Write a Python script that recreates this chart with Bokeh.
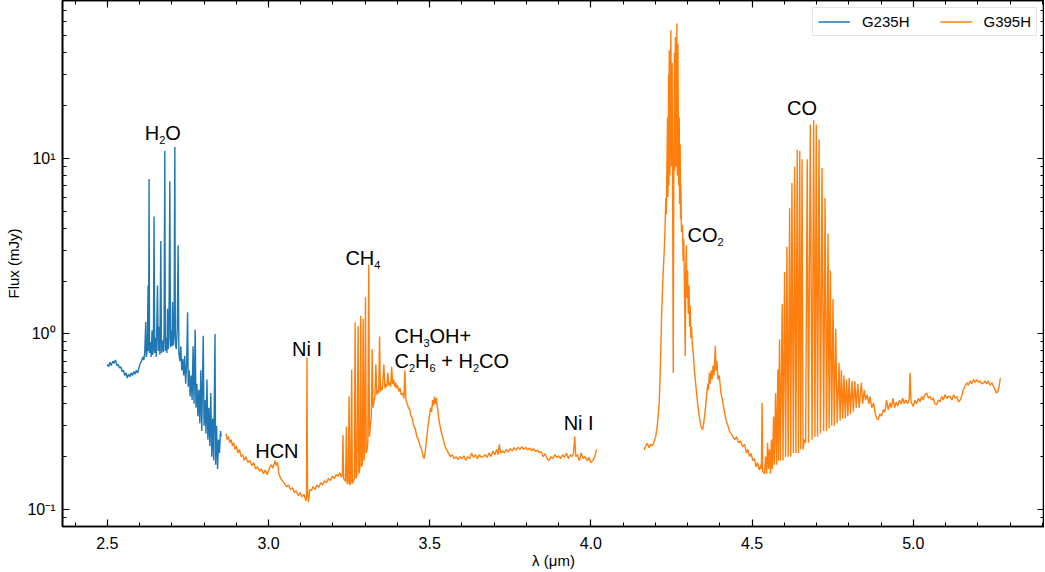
import numpy as np
from bokeh.plotting import figure
from bokeh.models import (Range1d, FixedTicker, SingleIntervalTicker, LinearAxis, LogAxis,
                          CustomJSTickFormatter, NumeralTickFormatter)
from bokeh.core.properties import value
from bokeh.embed import file_html
from bokeh.resources import INLINE

FONT = "Liberation Sans"
BLUE = "#1f77b4"
ORANGE = "#ff7f0e"
nan = float("nan")

# ---------------- data (wavelength in um, flux in mJy) ----------------
series_names = ["G235H", "G395H"]

g235h_wave = [
    2.500, 2.504, 2.508, 2.512, 2.517, 2.521, 2.525, 2.530, 2.534, 2.538,
    2.542, 2.546, 2.550, 2.554, 2.558, 2.562, 2.566, 2.570, 2.574, 2.578,
    2.582, 2.586, 2.590, 2.594, 2.598, 2.602, 2.606, 2.610, 2.613, 2.616,
    2.6192, 2.621, 2.624, 2.6264, 2.628, 2.6295, 2.631, 2.634, 2.636, 2.639,
    2.641, 2.643, 2.6450, 2.647, 2.650, 2.652, 2.6556, 2.658, 2.661, 2.663,
    2.6659, 2.668, 2.671, 2.674, 2.676, 2.6783, 2.680, 2.683, 2.685, 2.6867,
    2.689, 2.691, 2.6939, 2.696, 2.699, 2.701, 2.7023, 2.704, 2.707, 2.7095,
    2.711, 2.714, 2.717, 2.7197, 2.722, 2.725, 2.728, 2.731, 2.734, 2.737,
    2.740, 2.743, 2.746, 2.7490, 2.751, 2.754, 2.757, 2.760, 2.763, 2.766,
    2.769, 2.7726, 2.775, 2.778, 2.781, 2.784, 2.787, 2.790, 2.793, 2.7975,
    2.800, 2.803, 2.806, 2.809, 2.812, 2.815, 2.818, 2.821, 2.824, 2.827,
    2.830, 2.834, 2.836, 2.839, 2.842, 2.845, 2.848, 2.851, 2.853,
]
g235h_flux = [
    0.67, 0.65, 0.69, 0.66, 0.70, 0.68, 0.71, 0.66, 0.67, 0.64,
    0.65, 0.61, 0.62, 0.58, 0.60, 0.56, 0.59, 0.57, 0.60, 0.58,
    0.61, 0.59, 0.62, 0.60, 0.64, 0.68, 0.70, 0.74, 0.71, 0.78,
    1.17, 0.74, 0.82, 1.89, 0.80, 7.64, 0.78, 0.90, 0.74, 1.05,
    0.76, 0.85, 4.67, 0.78, 0.95, 0.74, 1.89, 0.80, 1.10, 0.76,
    3.38, 0.78, 0.92, 0.79, 1.00, 11.0, 0.80, 0.95, 0.78, 1.39,
    0.82, 0.96, 7.41, 0.84, 1.05, 0.85, 1.52, 0.86, 1.00, 11.6,
    0.88, 0.82, 1.10, 3.2, 0.78, 0.70, 0.85, 0.62, 0.72, 0.58,
    0.75, 0.52, 0.66, 1.33, 0.50, 0.62, 0.44, 0.58, 0.42, 0.85,
    0.40, 1.06, 0.38, 0.52, 0.34, 0.48, 0.31, 0.62, 0.28, 0.975,
    0.30, 0.42, 0.27, 0.55, 0.25, 0.38, 0.23, 0.46, 0.20, 0.33,
    0.19, 1.0, 0.18, 0.30, 0.17, 0.25, 0.21, 0.28, 0.26,
]

g395h_wave = [
    2.868, 2.872, 2.876, 2.880, 2.884, 2.888, 2.892, 2.896, 2.900, 2.905,
    2.910, 2.915, 2.920, 2.925, 2.930, 2.936, 2.942, 2.948, 2.954, 2.960,
    2.966, 2.972, 2.978, 2.984, 2.990, 2.996, 3.002, 3.008, 3.014, 3.020,
    3.024, 3.028, 3.032, 3.038, 3.044, 3.050, 3.056, 3.062, 3.068, 3.074,
    3.080, 3.086, 3.092, 3.098, 3.104, 3.110, 3.116, 3.118, 3.1193, 3.121,
    3.124, 3.128, 3.133, 3.138, 3.144, 3.150, 3.156, 3.162, 3.168, 3.174,
    3.180, 3.186, 3.192, 3.198, 3.204, 3.210, 3.216, 3.221, 3.226, 3.229,
    3.231, 3.233, 3.236, 3.239, 3.2417, 3.244, 3.247, 3.250, 3.252, 3.255,
    3.258, 3.260, 3.263, 3.266, 3.2687, 3.271, 3.274, 3.278, 3.280, 3.283,
    3.2862, 3.288, 3.291, 3.2936, 3.296, 3.298, 3.3008, 3.303, 3.306, 3.308,
    3.311, 3.313, 3.316, 3.319, 3.3217, 3.324, 3.327, 3.330, 3.3329, 3.336,
    3.339, 3.342, 3.3444, 3.347, 3.350, 3.353, 3.3578, 3.361, 3.364, 3.367,
    3.370, 3.373, 3.376, 3.379, 3.382, 3.385, 3.388, 3.391, 3.394, 3.397,
    3.400, 3.404, 3.408, 3.412, 3.416, 3.420, 3.423, 3.426, 3.430, 3.434,
    3.438, 3.442, 3.446, 3.450, 3.455, 3.460, 3.465, 3.470, 3.475, 3.480,
    3.483, 3.487, 3.491, 3.495, 3.499, 3.503, 3.506, 3.509, 3.512, 3.515,
    3.518, 3.521, 3.524, 3.528, 3.532, 3.537, 3.542, 3.547, 3.552, 3.558,
    3.564, 3.570, 3.576, 3.582, 3.588, 3.594, 3.600, 3.606, 3.612, 3.618,
    3.624, 3.630, 3.636, 3.642, 3.648, 3.654, 3.660, 3.666, 3.672, 3.678,
    3.684, 3.690, 3.696, 3.702, 3.708, 3.712, 3.716, 3.720, 3.726, 3.732,
    3.738, 3.744, 3.750, 3.756, 3.762, 3.768, 3.774, 3.780, 3.786, 3.792,
    3.798, 3.804, 3.810, 3.816, 3.822, 3.828, 3.834, 3.840, 3.846, 3.852,
    3.858, 3.864, 3.870, 3.876, 3.882, 3.888, 3.894, 3.900, 3.906, 3.912,
    3.918, 3.924, 3.930, 3.936, 3.942, 3.946, 3.950, 3.953, 3.958, 3.964,
    3.970, 3.976, 3.982, 3.988, 3.994, 4.000, 4.006, 4.012, 4.018, 4.090,
    4.165, 4.170, 4.1754, 4.180, 4.185, 4.190, 4.195, 4.201, 4.206, 4.212,
    4.216, 4.219, 4.223, 4.2273, 4.230, 4.2324, 4.234, 4.2376, 4.239, 4.241,
    4.242, 4.243, 4.245, 4.248, 4.250, 4.252, 4.2535, 4.2554, 4.257, 4.259,
    4.260, 4.262, 4.264, 4.2666, 4.268, 4.270, 4.272, 4.274, 4.275, 4.277,
    4.278, 4.279, 4.281, 4.2842, 4.286, 4.288, 4.290, 4.2927, 4.294, 4.296,
    4.298, 4.300, 4.302, 4.3046, 4.306, 4.308, 4.310, 4.312, 4.315, 4.318,
    4.321, 4.3257, 4.330, 4.336, 4.341, 4.3466, 4.350, 4.354, 4.357, 4.360,
    4.363, 4.365, 4.3674, 4.370, 4.373, 4.376, 4.379, 4.382, 4.3861, 4.388,
    4.391, 4.394, 4.398, 4.4035, 4.408, 4.413, 4.419, 4.425, 4.430, 4.435,
    4.440, 4.446, 4.452, 4.458, 4.464, 4.471, 4.477, 4.482, 4.487, 4.492,
    4.497, 4.502, 4.507, 4.5125, 4.517, 4.522, 4.527, 4.529, 4.531, 4.533,
    4.5385, 4.542, 4.545, 4.548, 4.551, 4.554, 4.557, 4.560, 4.563, 4.5667,
    4.569, 4.573, 4.576, 4.580, 4.582, 4.585, 4.588, 4.5934, 4.596, 4.6008,
    4.604, 4.608, 4.612, 4.6164, 4.620, 4.6236, 4.628, 4.632, 4.636, 4.640,
    4.644, 4.6478, 4.651, 4.655, 4.658, 4.662, 4.666, 4.671, 4.675, 4.6805,
    4.686, 4.691, 4.695, 4.699, 4.703, 4.7076, 4.712, 4.717, 4.722, 4.7263,
    4.731, 4.7356, 4.739, 4.7428, 4.747, 4.751, 4.755, 4.7594, 4.764, 4.7697,
    4.773, 4.777, 4.781, 4.785, 4.789, 4.793, 4.797, 4.801, 4.805, 4.810,
    4.814, 4.8187, 4.823, 4.828, 4.832, 4.839, 4.843, 4.848, 4.852, 4.857,
    4.862, 4.866, 4.871, 4.8768, 4.882, 4.887, 4.891, 4.896, 4.901, 4.907,
    4.912, 4.917, 4.922, 4.9277, 4.932, 4.937, 4.942, 4.947, 4.952, 4.957,
    4.962, 4.967, 4.972, 4.977, 4.982, 4.987, 4.990, 4.993, 5.000, 5.005,
    5.010, 5.016, 5.021, 5.026, 5.031, 5.036, 5.0416, 5.047, 5.052, 5.057,
    5.062, 5.067, 5.0727, 5.078, 5.083, 5.088, 5.093, 5.098, 5.104, 5.109,
    5.1145, 5.120, 5.125, 5.130, 5.135, 5.140, 5.1456, 5.150, 5.155, 5.160,
    5.166, 5.171, 5.176, 5.181, 5.187, 5.192, 5.197, 5.202, 5.207, 5.212,
    5.218, 5.223, 5.228, 5.233, 5.238, 5.244, 5.249, 5.254, 5.258, 5.262,
    5.266, 5.270,
]
g395h_flux = [
    0.27, 0.25, 0.26, 0.24, 0.25, 0.23, 0.24, 0.22, 0.23, 0.21,
    0.22, 0.20, 0.205, 0.19, 0.20, 0.185, 0.19, 0.178, 0.185, 0.17,
    0.175, 0.165, 0.17, 0.16, 0.168, 0.158, 0.17, 0.18, 0.172, 0.19,
    0.178, 0.185, 0.16, 0.15, 0.145, 0.14, 0.135, 0.138, 0.13, 0.133,
    0.125, 0.128, 0.12, 0.125, 0.118, 0.122, 0.112, 0.12, 0.733, 0.125,
    0.11, 0.13, 0.128, 0.135, 0.13, 0.138, 0.134, 0.142, 0.138, 0.146,
    0.142, 0.15, 0.146, 0.155, 0.15, 0.158, 0.155, 0.162, 0.152, 0.158,
    0.266, 0.15, 0.147, 0.145, 0.297, 0.14, 0.142, 0.441, 0.138, 0.142,
    0.628, 0.14, 0.145, 0.15, 1.16, 0.15, 0.155, 1.11, 0.16, 0.17,
    1.27, 0.175, 0.18, 1.22, 0.19, 0.20, 1.62, 0.21, 0.22, 0.24,
    2.48, 0.26, 0.30, 0.34, 0.818, 0.38, 0.41, 0.44, 0.67, 0.45,
    0.48, 0.46, 0.967, 0.47, 0.50, 0.48, 0.67, 0.49, 0.52, 0.50,
    0.60, 0.51, 0.53, 0.50, 0.65, 0.52, 0.55, 0.50, 0.53, 0.49,
    0.51, 0.47, 0.49, 0.45, 0.46, 0.43, 0.62, 0.42, 0.40, 0.38,
    0.37, 0.34, 0.33, 0.30, 0.29, 0.26, 0.25, 0.23, 0.22, 0.20,
    0.195, 0.22, 0.26, 0.30, 0.34, 0.38, 0.36, 0.42, 0.39, 0.44,
    0.40, 0.43, 0.38, 0.33, 0.30, 0.27, 0.25, 0.23, 0.22, 0.21,
    0.20, 0.205, 0.195, 0.20, 0.192, 0.20, 0.195, 0.202, 0.19, 0.20,
    0.195, 0.21, 0.198, 0.205, 0.195, 0.205, 0.198, 0.20, 0.205, 0.198,
    0.21, 0.20, 0.215, 0.205, 0.22, 0.205, 0.235, 0.21, 0.215, 0.21,
    0.22, 0.212, 0.222, 0.215, 0.225, 0.218, 0.226, 0.22, 0.228, 0.22,
    0.226, 0.218, 0.224, 0.216, 0.222, 0.214, 0.218, 0.21, 0.214, 0.20,
    0.208, 0.195, 0.19, 0.20, 0.195, 0.205, 0.198, 0.202, 0.195, 0.205,
    0.198, 0.21, 0.195, 0.205, 0.20, 0.21, 0.26, 0.20, 0.205, 0.19,
    0.21, 0.195, 0.20, 0.19, 0.198, 0.185, 0.19, 0.20, 0.22, nan,
    0.218, 0.23, 0.238, 0.225, 0.235, 0.23, 0.24, 0.26, 0.30, 0.405,
    0.70, 1.22, 2.0, 2.93, 4.0, 5.94, 4.8, 17.1, 6.0, 30.0,
    7.0, 41.3, 8.0, 53.6, 9.0, 35.0, 6.5, 0.60, 7.0, 40.0,
    8.5, 49.2, 9.0, 58.7, 8.0, 45.0, 7.0, 17.1, 5.5, 12.0,
    4.5, 7.09, 3.8, 4.17, 2.6, 3.5, 2.0, 0.749, 2.2, 3.2,
    1.6, 2.3, 1.3, 1.89, 1.1, 1.45, 0.95, 1.1, 0.85, 0.75,
    0.62, 0.504, 0.42, 0.339, 0.30, 0.284, 0.31, 0.36, 0.405, 0.47,
    0.52, 0.48, 0.60, 0.52, 0.62, 0.55, 0.66, 0.58, 0.855, 0.62,
    0.70, 0.55, 0.58, 0.46, 0.42, 0.37, 0.324, 0.30, 0.28, 0.27,
    0.26, 0.25, 0.26, 0.24, 0.245, 0.228, 0.235, 0.21, 0.22, 0.20,
    0.209, 0.19, 0.195, 0.175, 0.185, 0.168, 0.18, 0.17, 0.405, 0.165,
    0.16, 0.20, 0.16, 0.24, 0.17, 0.22, 0.16, 0.25, 0.17, 0.339,
    0.18, 0.46, 0.18, 0.628, 0.19, 0.934, 0.19, 1.48, 0.19, 2.25,
    0.20, 3.14, 0.20, 5.2, 0.20, 7.23, 0.21, 9.0, 0.21, 11.2,
    0.21, 11.0, 0.22, 9.87, 0.22, 0.25, 0.24, 9.87, 0.24, 15.6,
    0.25, 16.5, 0.26, 15.6, 0.26, 12.8, 0.27, 8.83, 0.28, 5.94,
    0.28, 3.73, 0.29, 2.30, 0.30, 1.58, 0.30, 1.07, 0.31, 0.686,
    0.32, 0.62, 0.33, 0.58, 0.33, 0.55, 0.34, 0.56, 0.35, 0.54,
    0.36, 0.538, 0.38, 0.52, 0.38, 0.527, 0.40, 0.48, 0.42, 0.45,
    0.40, 0.44, 0.38, 0.405, 0.35, 0.33, 0.324, 0.35, 0.34, 0.37,
    0.36, 0.42, 0.37, 0.405, 0.38, 0.43, 0.38, 0.41, 0.39, 0.42,
    0.40, 0.43, 0.40, 0.42, 0.40, 0.42, 0.60, 0.41, 0.387, 0.42,
    0.40, 0.43, 0.41, 0.44, 0.42, 0.45, 0.46, 0.43, 0.44, 0.42,
    0.43, 0.40, 0.396, 0.42, 0.41, 0.44, 0.42, 0.45, 0.43, 0.44,
    0.44, 0.42, 0.45, 0.43, 0.44, 0.41, 0.42, 0.44, 0.48, 0.50,
    0.527, 0.51, 0.54, 0.52, 0.55, 0.53, 0.55, 0.53, 0.54, 0.52,
    0.527, 0.54, 0.52, 0.54, 0.51, 0.527, 0.50, 0.48, 0.46, 0.47,
    0.50, 0.56,
]

# annotation labels: anchor wavelength, anchor flux, alignment, (text, is_subscript) pieces
annotations = [
    (2.672, 12.96, "center", [("H", 0), ("2", 1), ("O", 0)]),
    (3.026, 0.1988, "center", [("HCN", 0)]),
    (3.1193, 0.7557, "center", [("Ni I", 0)]),
    (3.2386, 2.515, "left", [("CH", 0), ("4", 1)]),
    (3.391, 0.897, "left", [("CH", 0), ("3", 1), ("OH+", 0)]),
    (3.391, 0.645, "left", [("C", 0), ("2", 1), ("H", 0), ("6", 1), (" + H", 0), ("2", 1), ("CO", 0)]),
    (3.962, 0.2878, "center", [("Ni I", 0)]),
    (4.2999, 3.365, "left", [("CO", 0), ("2", 1)]),
    (4.6547, 17.8, "center", [("CO", 0)]),
]

y_major_ticks = [0.1, 1, 10]
y_minor_ticks = [0.08, 0.09, 0.2, 0.3, 0.4, 0.5, 0.6, 0.7, 0.8, 0.9,
                 2, 3, 4, 5, 6, 7, 8, 9, 20, 30, 40, 50, 60, 70]

# ---------------- figure ----------------
p = figure(width=1044, height=571,
           x_range=Range1d(2.361, 5.407), y_range=Range1d(0.08, 79.3),
           y_axis_type="log", output_backend="svg", toolbar_location=None,
           min_border_left=62, min_border_right=0, min_border_top=0, min_border_bottom=0)
p.xgrid.visible = False
p.ygrid.visible = False
p.outline_line_color = "black"
p.outline_line_width = 1.6
p.background_fill_color = "white"
p.border_fill_color = "white"


def style_axis(ax, show_labels=True):
    ax.axis_line_color = "black"
    ax.axis_line_width = 1.6
    ax.major_tick_in = 7
    ax.major_tick_out = 0
    ax.minor_tick_in = 4
    ax.minor_tick_out = 0
    ax.major_tick_line_color = "black"
    ax.minor_tick_line_color = "black"
    ax.major_tick_line_width = 1.2
    ax.minor_tick_line_width = 1.0
    if show_labels:
        ax.major_label_text_font = FONT
        ax.major_label_text_font_size = "16px"
        ax.major_label_text_color = "black"
        ax.axis_label_text_font = FONT
        ax.axis_label_text_font_size = "15px"
        ax.axis_label_text_font_style = "normal"
        ax.axis_label_text_color = "black"
    else:
        ax.major_label_text_font_size = "0px"
        ax.major_label_standoff = 0


xa = p.xaxis[0]
xa.ticker = SingleIntervalTicker(interval=0.5, num_minor_ticks=5)
xa.formatter = NumeralTickFormatter(format="0.0")
xa.axis_label = "λ (μm)"
style_axis(xa)
xa.major_label_standoff = 10
xa.axis_label_standoff = 0

sup_js = """
const e = Math.round(Math.log10(tick));
const m = {"-1": "\u207b\u00b9", "0": "\u2070", "1": "\u00b9"};
return "10" + m[String(e)];
"""
ya = p.yaxis[0]
ya.ticker = FixedTicker(ticks=y_major_ticks, minor_ticks=y_minor_ticks)
ya.formatter = CustomJSTickFormatter(code=sup_js)
ya.axis_label = "Flux (mJy)"
style_axis(ya)
ya.major_label_standoff = 7
ya.axis_label_standoff = 2

top_ax = LinearAxis(ticker=SingleIntervalTicker(interval=0.5, num_minor_ticks=5),
                    formatter=CustomJSTickFormatter(code="return ''"))
style_axis(top_ax, show_labels=False)
p.add_layout(top_ax, "above")

right_ax = LogAxis(ticker=FixedTicker(ticks=y_major_ticks, minor_ticks=y_minor_ticks),
                   formatter=CustomJSTickFormatter(code="return ''"))
style_axis(right_ax, show_labels=False)
p.add_layout(right_ax, "right")

# ---------------- spectra ----------------
p.line(np.array(g235h_wave), np.array(g235h_flux), line_color=BLUE, line_width=1.4,
       legend_label=series_names[0])
p.line(np.array(g395h_wave), np.array(g395h_flux), line_color=ORANGE, line_width=1.4,
       legend_label=series_names[1])

# ---------------- annotations ----------------
EM = {"H": .722, "O": .778, "C": .722, "N": .722, "i": .222, "I": .278, " ": .278, "+": .584}
MAIN, SUB = 20, 11
RAISE = -6   # screen px: lift all annotation text slightly


def piece_width(t, size):
    return sum(EM.get(c, .556) for c in t) * size


for ax_x, ax_y, align, pieces in annotations:
    total = sum(piece_width(t, SUB if s else MAIN) for t, s in pieces)
    off = -total / 2 if align == "center" else 0.0
    for t, s in pieces:
        size = SUB if s else MAIN
        lead = len(t) - len(t.lstrip())
        body = t.strip()
        p.text(x=[ax_x], y=[ax_y], text=[body],
               x_offset=off + lead * EM[" "] * size, y_offset=RAISE + (7 if s else 0),
               text_font=value(FONT), text_font_size=f"{size}px",
               text_align="left", text_baseline="alphabetic", text_color="black")
        off += piece_width(t, size)

# ---------------- legend ----------------
lg = p.legend[0]
lg.location = "top_right"
lg.orientation = "horizontal"
lg.margin = 7
lg.padding = 5
lg.spacing = 30
lg.label_standoff = 12
lg.glyph_width = 32
lg.glyph_height = 15
lg.label_height = 15
lg.label_text_font = FONT
lg.label_text_font_size = "15px"
lg.label_text_color = "black"
lg.border_line_color = "#cccccc"
lg.border_line_width = 1.5
lg.background_fill_alpha = 0.8

open("out.html", "w").write(file_html(p, INLINE))
